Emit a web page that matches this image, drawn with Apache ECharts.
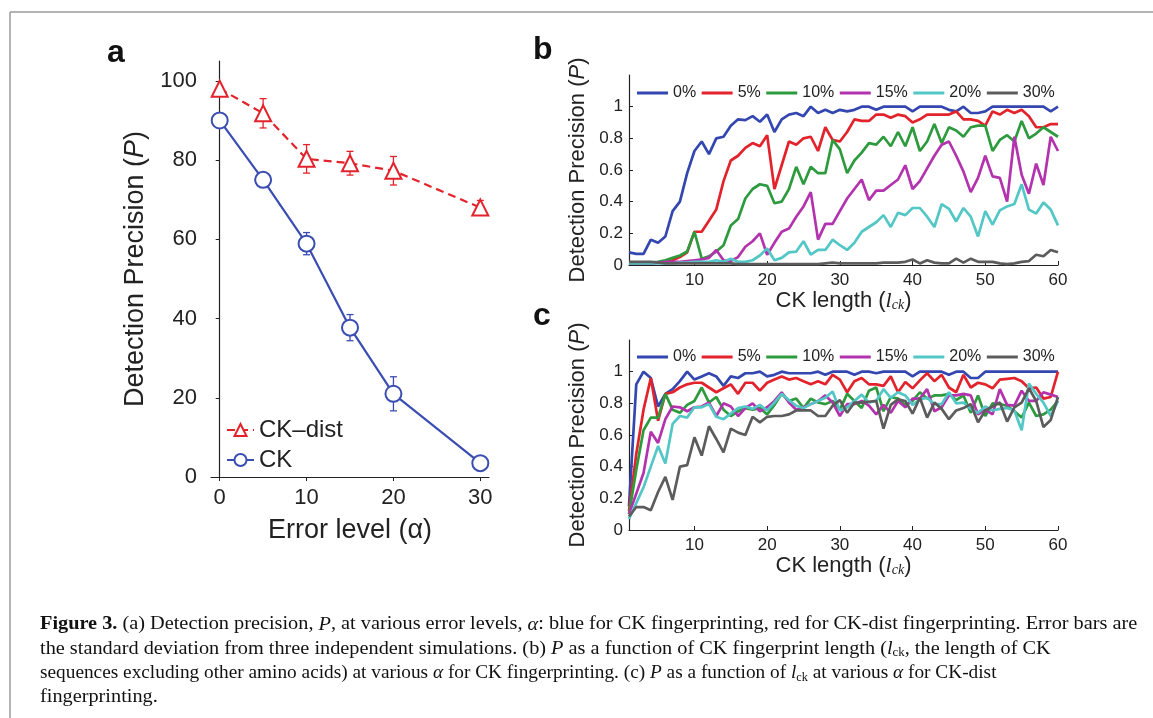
<!DOCTYPE html>
<html><head><meta charset="utf-8">
<script src="https://cdn.jsdelivr.net/npm/echarts@6/dist/echarts.min.js"></script>
<style>html,body{margin:0;padding:0;background:#fff}#c{width:1153px;height:718px}</style>
</head><body><div id="c"></div>
<script>
// ---------- Panel a ----------
const alphaLevels = [0, 5, 10, 15, 20, 30];
const ckDistMean = [98, 91.8, 80.3, 79.2, 77.3, 68];
const ckDistErr  = [0, 3.7, 3.6, 3.0, 3.6, 1.8];
const ckMean     = [90, 75, 58.9, 37.7, 21, 3.5];
const ckErr      = [0, 0, 2.8, 3.3, 4.3, 1.9];
const alphaTicks = [0, 10, 20, 30];
const precisionTicks = [0, 20, 40, 60, 80, 100];

// ---------- Panels b, c ----------
const ckLength = [1,2,3,4,5,6,7,8,9,10,11,12,13,14,15,16,17,18,19,20,21,22,23,24,25,26,27,28,29,30,31,32,33,34,35,36,37,38,39,40,41,42,43,44,45,46,47,48,49,50,51,52,53,54,55,56,57,58,59,60];
const lengthTicks = [10, 20, 30, 40, 50, 60];
const pTicks = [0, 0.2, 0.4, 0.6, 0.8, 1];
const errorNames = ['0%', '5%', '10%', '15%', '20%', '30%'];

const b0  = [0.08,0.07,0.07,0.16,0.14,0.18,0.34,0.40,0.58,0.72, 0.78,0.70,0.80,0.81,0.88,0.92,0.915,0.94,0.905,0.95, 0.84,0.92,0.95,0.96,0.94,1.0,0.96,0.98,0.96,0.98, 0.97,0.98,1.0,1.0,0.98,1.0,1.0,1.0,1.0,0.97, 1.0,1.0,1.0,1.0,0.98,0.97,1.0,0.96,0.96,0.97, 1.0,1.0,1.0,1.0,1.0,1.0,1.0,1.0,0.97,1.0];
const b5  = [0.01,0.01,0.01,0.01,0.015,0.02,0.03,0.05,0.08,0.21, 0.21,0.28,0.35,0.53,0.66,0.69,0.74,0.77,0.75,0.82, 0.48,0.63,0.78,0.76,0.80,0.81,0.72,0.87,0.79,0.78, 0.84,0.92,0.91,0.91,0.95,0.95,0.93,0.95,0.94,0.90, 0.92,0.95,0.95,0.95,0.95,0.97,0.92,0.92,0.91,0.88, 0.97,0.95,0.98,0.96,0.98,0.94,0.87,0.87,0.89,0.89];
const b10 = [0.01,0.01,0.01,0.015,0.02,0.03,0.045,0.06,0.085,0.21, 0.04,0.055,0.085,0.125,0.25,0.29,0.42,0.48,0.51,0.50, 0.39,0.40,0.48,0.62,0.51,0.62,0.58,0.58,0.79,0.73, 0.58,0.66,0.71,0.77,0.76,0.81,0.75,0.84,0.75,0.87, 0.72,0.78,0.89,0.77,0.87,0.85,0.81,0.87,0.88,0.88, 0.72,0.79,0.82,0.78,0.91,0.80,0.83,0.87,0.84,0.81];
const b15 = [0.01,0.01,0.01,0.01,0.015,0.02,0.02,0.02,0.025,0.03, 0.035,0.045,0.095,0.03,0.025,0.05,0.115,0.15,0.20,0.065, 0.14,0.21,0.23,0.305,0.37,0.46,0.16,0.26,0.26,0.34, 0.42,0.48,0.54,0.41,0.47,0.47,0.505,0.54,0.63,0.48, 0.53,0.61,0.69,0.76,0.78,0.69,0.59,0.46,0.55,0.69, 0.56,0.55,0.40,0.81,0.57,0.45,0.64,0.505,0.81,0.72];
const b20 = [0.01,0.01,0.01,0.01,0.01,0.01,0.01,0.015,0.015,0.02, 0.02,0.02,0.03,0.02,0.04,0.02,0.02,0.03,0.06,0.105, 0.03,0.045,0.08,0.085,0.15,0.065,0.095,0.095,0.16,0.125, 0.095,0.14,0.21,0.24,0.27,0.315,0.24,0.33,0.315,0.36, 0.36,0.305,0.24,0.385,0.355,0.275,0.36,0.305,0.18,0.34, 0.255,0.345,0.37,0.385,0.51,0.35,0.325,0.395,0.35,0.25];
const b30 = [0.02,0.02,0.02,0.02,0.015,0.01,0.01,0.01,0.01,0.01, 0.01,0.01,0.01,0.01,0.01,0.005,0.005,0.005,0.005,0.005, 0.005,0.005,0.005,0.005,0.005,0.005,0.005,0.01,0.015,0.01, 0.01,0.01,0.01,0.01,0.01,0.015,0.015,0.015,0.02,0.035, 0.01,0.03,0.015,0.01,0.01,0.04,0.015,0.04,0.02,0.02, 0.02,0.01,0.005,0.01,0.02,0.025,0.065,0.055,0.095,0.08];

const c0  = [0.15,0.92,1.0,0.96,0.78,0.86,0.89,0.94,1.0,0.95, 0.97,0.99,0.97,0.91,0.97,0.96,0.99,0.99,1.0,0.97, 0.98,1.0,0.99,0.99,0.99,0.99,1.0,0.98,1.0,1.0, 1.0,0.98,1.0,1.0,0.99,1.0,1.0,1.0,1.0,0.97, 1.0,1.0,1.0,1.0,0.98,1.0,1.0,0.96,0.96,1.0, 1.0,1.0,1.0,1.0,1.0,1.0,1.0,1.0,1.0,1.0];
const c5  = [0.12,0.48,0.76,0.96,0.69,0.86,0.87,0.90,0.92,0.93, 0.93,0.90,0.87,0.895,0.92,0.86,0.93,0.93,0.88,0.93, 0.95,0.97,0.95,0.96,0.94,0.92,0.94,0.92,0.98,0.95, 0.87,0.94,0.96,0.92,0.92,0.91,0.97,0.87,0.935,0.895, 0.945,0.99,0.94,0.98,0.90,0.87,0.98,0.90,0.93,0.92, 0.895,0.95,0.955,0.96,0.94,0.895,0.90,0.83,0.84,1.0];
const c10 = [0.10,0.38,0.63,0.71,0.71,0.86,0.76,0.74,0.79,0.815, 0.90,0.805,0.84,0.76,0.72,0.75,0.77,0.76,0.77,0.73, 0.79,0.86,0.815,0.83,0.77,0.83,0.805,0.795,0.815,0.76, 0.86,0.815,0.77,0.88,0.90,0.75,0.84,0.83,0.79,0.815, 0.87,0.83,0.85,0.85,0.86,0.82,0.85,0.74,0.85,0.72, 0.80,0.795,0.785,0.75,0.71,0.805,0.72,0.73,0.76,0.815];
const c15 = [0.10,0.23,0.36,0.62,0.55,0.70,0.78,0.775,0.75,0.775, 0.78,0.805,0.72,0.80,0.78,0.72,0.77,0.80,0.75,0.775, 0.815,0.87,0.805,0.76,0.775,0.795,0.815,0.85,0.805,0.72, 0.795,0.795,0.815,0.785,0.73,0.79,0.74,0.815,0.775,0.83, 0.83,0.89,0.75,0.775,0.85,0.85,0.86,0.85,0.73,0.76, 0.73,0.89,0.79,0.785,0.88,0.815,0.815,0.87,0.855,0.84];
const c20 = [0.07,0.17,0.27,0.40,0.53,0.42,0.67,0.72,0.71,0.775, 0.775,0.795,0.715,0.70,0.735,0.77,0.78,0.765,0.79,0.755, 0.805,0.86,0.82,0.785,0.77,0.795,0.815,0.835,0.875,0.755, 0.775,0.815,0.855,0.805,0.815,0.89,0.835,0.87,0.85,0.79, 0.825,0.835,0.795,0.795,0.87,0.80,0.805,0.765,0.74,0.78, 0.755,0.765,0.77,0.755,0.63,0.925,0.86,0.805,0.72,0.815];
const c30 = [0.085,0.145,0.145,0.125,0.24,0.335,0.19,0.40,0.41,0.585, 0.47,0.655,0.575,0.49,0.64,0.615,0.60,0.715,0.68,0.715, 0.72,0.72,0.73,0.755,0.755,0.755,0.72,0.72,0.785,0.82, 0.74,0.805,0.805,0.81,0.815,0.64,0.79,0.825,0.815,0.735, 0.835,0.71,0.805,0.765,0.70,0.755,0.77,0.795,0.68,0.755, 0.78,0.805,0.685,0.775,0.805,0.895,0.815,0.65,0.695,0.84];

const panelB = [b0, b5, b10, b15, b20, b30];
const panelC = [c0, c5, c10, c15, c20, c30];

// ---------- styling ----------
const seriesColors = ['#3446b0', '#e3232c', '#2d9a3e', '#b233ad', '#53c6c6', '#5c5c5c'];
const RED = '#e3232c', BLUE = '#3a4db1';
const SANS = '"Liberation Sans", Arial, sans-serif';
const SERIF = '"Liberation Serif", "Times New Roman", serif';
const INK = '#222';

const chart = echarts.init(document.getElementById('c'), null, {renderer: 'canvas'});

function errRender(color) {
  return function (params, api) {
    const x = api.value(0), y = api.value(1), e = api.value(2);
    if (!e) return null;
    const hi = api.coord([x, y + e]), lo = api.coord([x, y - e]);
    const w = 3.5, st = {stroke: color, lineWidth: 1.3};
    return {type: 'group', children: [
      {type: 'line', shape: {x1: hi[0], y1: hi[1], x2: lo[0], y2: lo[1]}, style: st},
      {type: 'line', shape: {x1: hi[0] - w, y1: hi[1], x2: hi[0] + w, y2: hi[1]}, style: st},
      {type: 'line', shape: {x1: lo[0] - w, y1: lo[1], x2: lo[0] + w, y2: lo[1]}, style: st}
    ]};
  };
}

const axisLineStyle = {lineStyle: {color: INK, width: 1.2}};
const titleRich = (fs) => ({
  i: {fontStyle: 'italic', fontSize: fs, fontFamily: SANS, color: INK},
  s: {fontStyle: 'italic', fontSize: Math.round(fs * 0.62), fontFamily: SERIF, color: INK, padding: [Math.round(fs*0.35), 0, 0, 0]},
  l: {fontStyle: 'italic', fontSize: fs, fontFamily: SERIF, color: INK}
});

const xAxes = [
  {gridIndex: 0, type: 'value', min: -1, max: 31,
   axisLine: axisLineStyle, splitLine: {show: false},
   axisTick: {customValues: alphaTicks, length: 4, lineStyle: {color: INK}},
   axisLabel: {customValues: alphaTicks, fontSize: 22, fontFamily: SANS, color: INK, margin: 10},
   name: 'Error level (α)', nameLocation: 'middle', nameGap: 40,
   nameTextStyle: {fontSize: 27, fontFamily: SANS, color: INK}},
];
const yAxes = [
  {gridIndex: 0, type: 'value', min: 0, max: 105,
   axisLine: {show: true, ...axisLineStyle}, splitLine: {show: false},
   axisTick: {show: true, customValues: precisionTicks, length: 4, lineStyle: {color: INK}},
   axisLabel: {customValues: precisionTicks, fontSize: 22, fontFamily: SANS, color: INK, margin: 14},
   name: 'Detection Precision ({i|P})', nameLocation: 'middle', nameGap: 62,
   nameTextStyle: {fontSize: 27, fontFamily: SANS, color: INK, rich: titleRich(27)}},
];
[1, 2].forEach(g => {
  xAxes.push({gridIndex: g, type: 'value', min: 1, max: 60,
    axisLine: axisLineStyle, splitLine: {show: false},
    axisTick: {customValues: lengthTicks, inside: true, length: 4, lineStyle: {color: INK}},
    axisLabel: {customValues: lengthTicks, fontSize: 17, fontFamily: SANS, color: INK, margin: 7},
    name: 'CK length ({l|l}{s|ck})', nameLocation: 'middle', nameGap: 24,
    nameTextStyle: {fontSize: 22, fontFamily: SANS, color: INK, rich: titleRich(22)}});
  yAxes.push({gridIndex: g, type: 'value', min: 0, max: 1.2,
    axisLine: {show: true, ...axisLineStyle}, splitLine: {show: false},
    axisTick: {show: true, customValues: pTicks, inside: true, length: 4, lineStyle: {color: INK}},
    axisLabel: {customValues: pTicks, fontSize: 17, fontFamily: SANS, color: INK, margin: 6},
    name: 'Detection Precision ({i|P})', nameLocation: 'middle', nameGap: 40,
    nameTextStyle: {fontSize: 22, fontFamily: SANS, color: INK, rich: titleRich(22)}});
});

const series = [
  {type: 'custom', name: 'errDist', xAxisIndex: 0, yAxisIndex: 0, z: 1,
   renderItem: errRender(RED), data: alphaLevels.map((a, i) => [a, ckDistMean[i], ckDistErr[i]])},
  {type: 'custom', name: 'errCK', xAxisIndex: 0, yAxisIndex: 0, z: 1,
   renderItem: errRender(BLUE), data: alphaLevels.map((a, i) => [a, ckMean[i], ckErr[i]])},
  {type: 'line', name: 'CK–dist', xAxisIndex: 0, yAxisIndex: 0, z: 3,
   data: alphaLevels.map((a, i) => [a, ckDistMean[i]]),
   symbol: 'triangle', symbolSize: 16, showAllSymbol: true,
   lineStyle: {color: RED, width: 2.2, type: [8, 5]},
   itemStyle: {color: '#fff', borderColor: RED, borderWidth: 2}, color: RED},
  {type: 'line', name: 'CK', xAxisIndex: 0, yAxisIndex: 0, z: 3,
   data: alphaLevels.map((a, i) => [a, ckMean[i]]),
   symbol: 'circle', symbolSize: 16, showAllSymbol: true,
   lineStyle: {color: BLUE, width: 2.2},
   itemStyle: {color: '#fff', borderColor: BLUE, borderWidth: 2}, color: BLUE},
];
[panelB, panelC].forEach((panel, p) => {
  panel.forEach((vals, k) => {
    series.push({type: 'line', name: errorNames[k], xAxisIndex: p + 1, yAxisIndex: p + 1,
      data: ckLength.map((l, i) => [l, vals[i]]), symbol: 'none', showSymbol: false,
      color: seriesColors[k], lineStyle: {color: seriesColors[k], width: 2.7}, z: 2 + k});
  });
});

const legendText = {fontSize: 16, fontFamily: SANS, color: INK};
const caption = [
  '{b|Figure 3.} (a) Detection precision, {i|P}, at various error levels, {i|α}: blue for CK fingerprinting, red for CK-dist fingerprinting. Error bars are',
  'the standard deviation from three independent simulations. (b) {i|P} as a function of CK fingerprint length ({i|l}{s|ck}, the length of CK',
  'sequences excluding other amino acids) at various {i|α} for CK fingerprinting. (c) {i|P} as a function of {i|l}{s|ck} at various {i|α} for CK-dist',
  'fingerprinting.'
];
const captionStretch = [1.068, 1.068, 1.016, 1.068];
const CAPFS = 19;
const capRich = {
  b: {fontWeight: 'bold', fontSize: CAPFS, fontFamily: SERIF, fill: '#111'},
  i: {fontStyle: 'italic', fontSize: CAPFS, fontFamily: SERIF, fill: '#111'},
  s: {fontSize: 12, fontFamily: SERIF, fill: '#111', padding: [8, 0, 0, 0]}
};

const graphics = [
  {type: 'line', shape: {x1: 10, y1: 12, x2: 1153, y2: 12}, style: {stroke: '#9a9a9a', lineWidth: 1.5}},
  {type: 'line', shape: {x1: 10, y1: 12, x2: 10, y2: 718}, style: {stroke: '#9a9a9a', lineWidth: 1.5}},
  {type: 'text', left: 107, top: 37, style: {text: 'a', fontSize: 32, fontWeight: 'bold', fontFamily: SANS, fill: '#111'}},
  {type: 'text', left: 533, top: 34, style: {text: 'b', fontSize: 32, fontWeight: 'bold', fontFamily: SANS, fill: '#111'}},
  {type: 'text', left: 533, top: 300, style: {text: 'c', fontSize: 32, fontWeight: 'bold', fontFamily: SANS, fill: '#111'}},
];
caption.forEach((t, i) => {
  graphics.push({type: 'text', x: 40, y: 615 + i * 24.2, scaleX: captionStretch[i],
    style: {text: t, fontSize: CAPFS, fontFamily: SERIF, fill: '#111', rich: capRich}});
});

chart.setOption({
  backgroundColor: '#fff',
  animation: false,
  grid: [
    {left: 211, top: 61, width: 278, height: 416},
    {left: 629, top: 75, width: 429, height: 190},
    {left: 629, top: 340, width: 429, height: 190}
  ],
  xAxis: xAxes,
  yAxis: yAxes,
  legend: [
    {data: ['CK–dist', 'CK'], orient: 'vertical', left: 221, top: 413, itemWidth: 27, itemHeight: 15, itemGap: 6,
     textStyle: {fontSize: 24, fontFamily: SANS, color: INK}, selectedMode: false},
    {data: errorNames, left: 632, top: 80, icon: 'rect', itemWidth: 31, itemHeight: 3, itemGap: 5.5,
     textStyle: legendText, selectedMode: false},
    {data: errorNames, left: 632, top: 344, icon: 'rect', itemWidth: 31, itemHeight: 3, itemGap: 5.5,
     textStyle: legendText, selectedMode: false}
  ],
  graphic: graphics,
  series: series
});
</script></body></html>
